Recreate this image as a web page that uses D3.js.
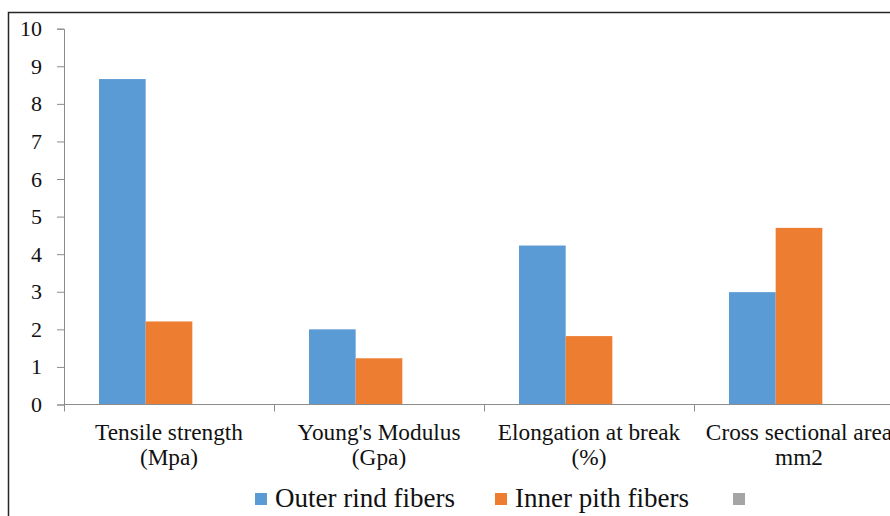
<!DOCTYPE html>
<html><head><meta charset="utf-8"><script src="https://cdn.jsdelivr.net/npm/d3@7"></script></head>
<body style="margin:0">
<svg id="chart" width="890" height="516"></svg>
<script>
// Fiber property comparison: outer rind vs. inner pith
const categories = [
  ["Tensile strength", "(Mpa)"],
  ["Young's Modulus", "(Gpa)"],
  ["Elongation at break", "(%)"],
  ["Cross sectional area", "mm2"]
];
const seriesNames = ["Outer rind fibers", "Inner pith fibers", ""];
const outerRind = [8.66, 2.0, 4.23, 2.99];
const innerPith = [2.21, 1.23, 1.82, 4.70];
const thirdSeries = [null, null, null, null];
const yTicks = [0, 1, 2, 3, 4, 5, 6, 7, 8, 9, 10];
const colors = ["#5b9bd5", "#ed7d31", "#a5a5a5"];

const FONT = '"Liberation Serif"';
const TEXT = "#111111";
const AXIS = "#8c8c8c";

const svg = d3.select("#chart");
const margin = { left: 64, top: 28.7 };
const plotRight = 904;

// outer chart frame
svg.append("rect")
  .attr("x", 8.5).attr("y", 12.5)
  .attr("width", 1000).attr("height", 1000)
  .attr("fill", "none").attr("stroke", "#262626").attr("stroke-width", 1.5);

const x = d3.scaleBand()
  .domain(d3.range(categories.length))
  .range([margin.left, plotRight])
  .paddingInner(0).paddingOuter(0);

const y = d3.scaleLinear().domain([0, 10]).range([404.5, margin.top]);

const inner = d3.scaleBand()
  .domain(d3.range(3))
  .range([0, x.bandwidth()])
  .paddingOuter(0.75).paddingInner(0);

// bars
const allSeries = [outerRind, innerPith, thirdSeries];
allSeries.forEach((vals, si) => {
  svg.append("g").selectAll("rect")
    .data(vals.map((v, i) => ({ v, i })).filter(d => d.v != null))
    .join("rect")
    .attr("x", d => x(d.i) + inner(si))
    .attr("width", inner.bandwidth())
    .attr("y", d => y(d.v))
    .attr("height", d => y(0) - y(d.v))
    .attr("fill", colors[si]);
});

// y axis: line and ticks from d3, labels drawn as plain texts
const yAxis = svg.append("g")
  .attr("transform", `translate(${margin.left},0)`)
  .call(d3.axisLeft(y).tickValues(yTicks).tickSize(7).tickFormat(""));
yAxis.select(".domain").attr("stroke", AXIS);
yAxis.selectAll(".tick line").attr("stroke", AXIS);

svg.append("g").selectAll("text")
  .data(yTicks)
  .join("text")
  .attr("x", margin.left - 22)
  .attr("y", d => y(d))
  .attr("dy", "0.34em")
  .attr("text-anchor", "end")
  .attr("fill", TEXT)
  .attr("font-size", 22)
  .style("font-family", FONT)
  .text(d => d);

// x axis with ticks on band boundaries
const xAxisG = svg.append("g").attr("transform", `translate(0,${y(0)})`);
xAxisG.append("line")
  .attr("x1", margin.left).attr("x2", plotRight)
  .attr("stroke", AXIS);
xAxisG.selectAll("line.tk")
  .data(d3.range(categories.length + 1))
  .join("line").attr("class", "tk")
  .attr("x1", i => (i < categories.length ? x(i) : plotRight) + 0.5)
  .attr("x2", i => (i < categories.length ? x(i) : plotRight) + 0.5)
  .attr("y1", 0).attr("y2", 7)
  .attr("stroke", AXIS);

// category labels (two lines each)
const labelRows = [];
categories.forEach((lines, i) => lines.forEach((t, r) => labelRows.push({ i, r, t })));
svg.append("g").selectAll("text")
  .data(labelRows)
  .join("text")
  .attr("text-anchor", "middle")
  .attr("fill", TEXT)
  .attr("font-size", 23.3)
  .style("font-family", FONT)
  .attr("x", d => x(d.i) + x.bandwidth() / 2)
  .attr("y", d => 440 + d.r * 25)
  .text(d => d.t);

// legend
const legendItems = [
  { name: seriesNames[0], color: colors[0], x: 255 },
  { name: seriesNames[1], color: colors[1], x: 495 },
  { name: seriesNames[2], color: colors[2], x: 733 }
];
const lg = svg.append("g")
  .selectAll("g")
  .data(legendItems)
  .join("g")
  .attr("transform", d => `translate(${d.x},493)`);
lg.append("rect").attr("width", 12).attr("height", 12).attr("fill", d => d.color);
lg.append("text")
  .attr("x", 20).attr("y", 13.5)
  .attr("fill", TEXT)
  .attr("font-size", 27)
  .style("font-family", FONT)
  .text(d => d.name);
</script>
</body>
</html>
